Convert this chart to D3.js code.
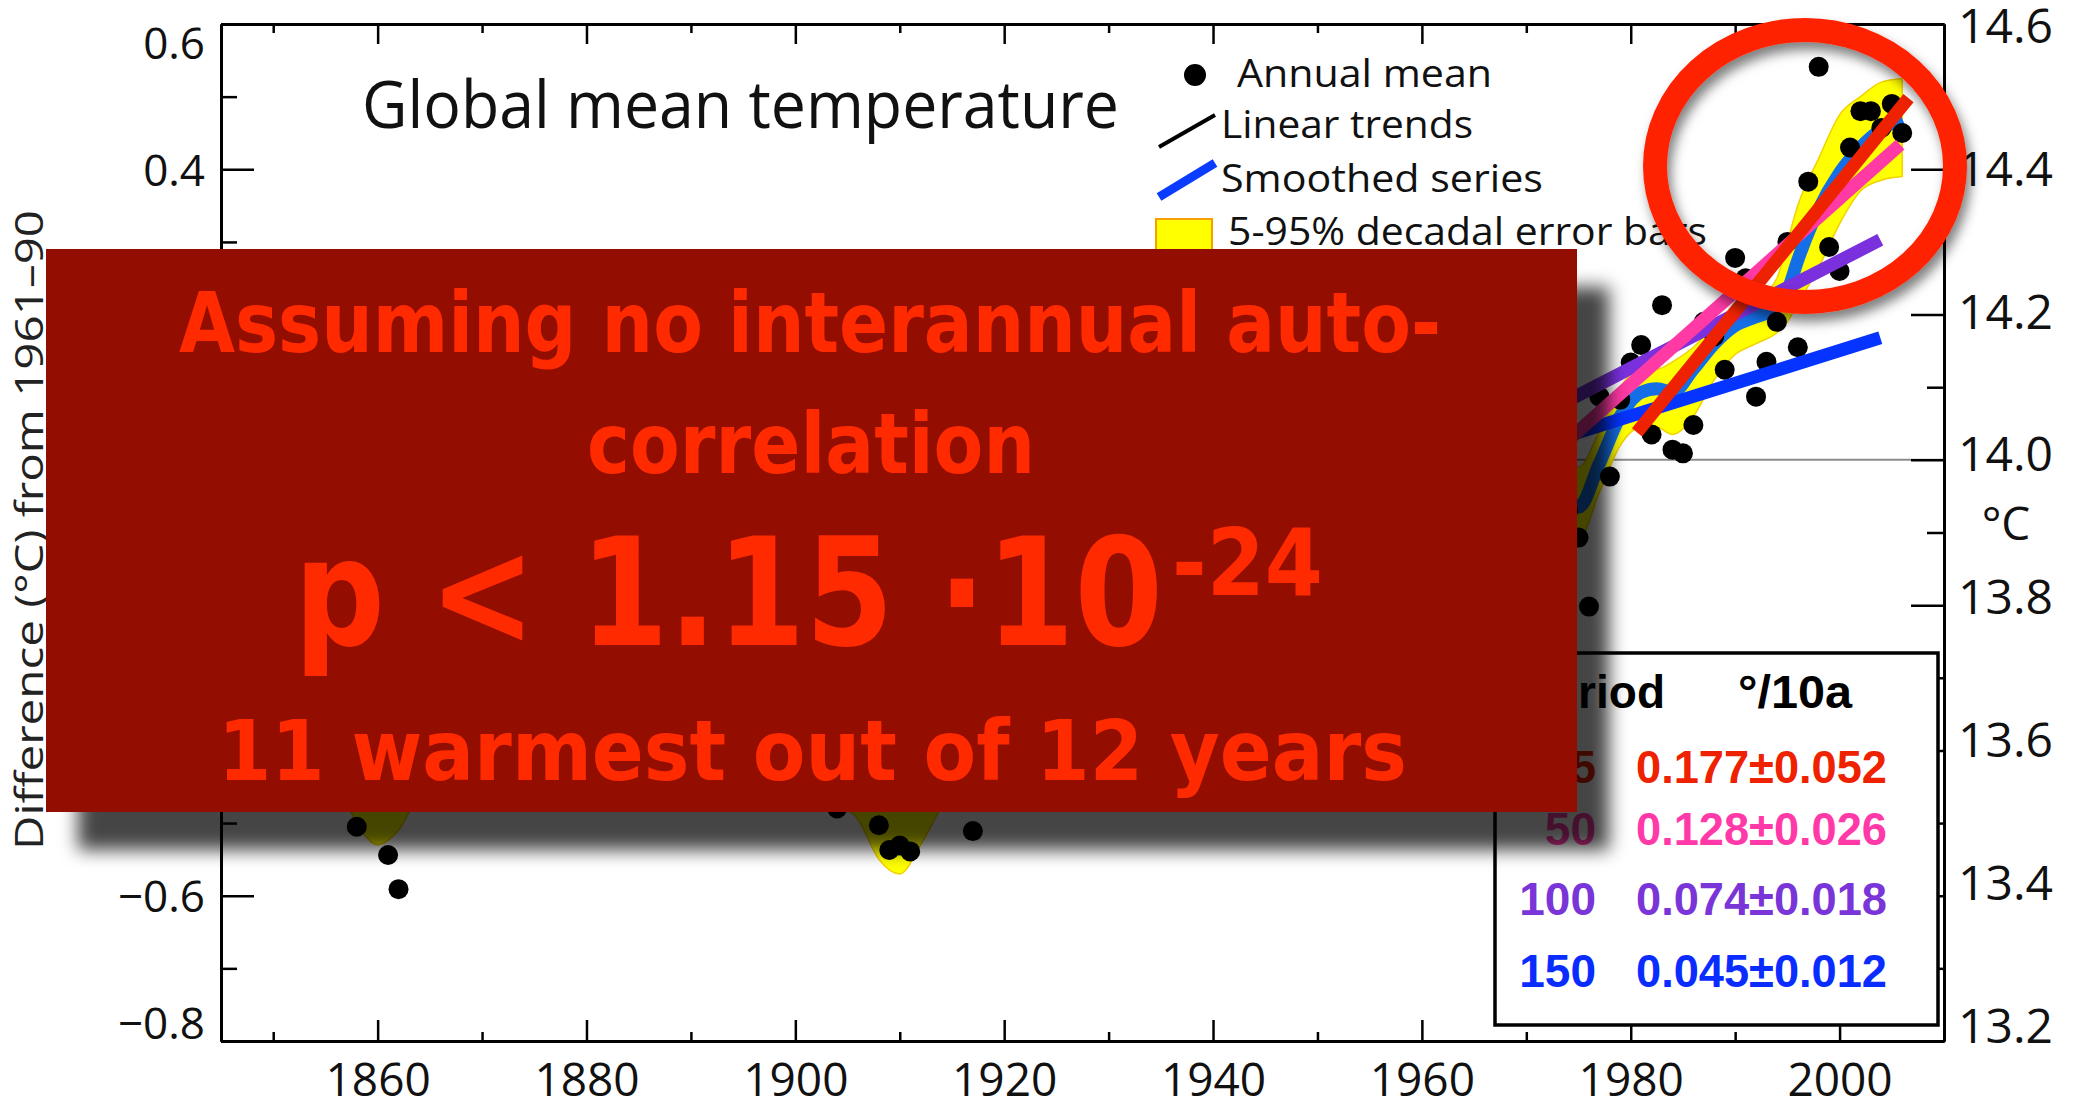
<!DOCTYPE html>
<html>
<head>
<meta charset="utf-8">
<script src="https://cdn.jsdelivr.net/npm/d3@7"></script>
<style>
  html, body { margin: 0; padding: 0; background: #ffffff; }
  svg { display: block; }
</style>
</head>
<body>
<svg id="chart" width="2076" height="1103"></svg>
<script>
// ---- Data -------------------------------------------------------------
// Annual global mean temperature anomaly (°C, relative to 1961–90), 1850–2006
const firstYear = 1850;
const annualMean = [
  -0.37, -0.22, -0.23, -0.27, -0.29, -0.30, -0.32, -0.44, -0.505, -0.28,   // 1850s
  -0.39, -0.544, -0.591, -0.30, -0.44, -0.29, -0.30, -0.32, -0.28, -0.28,  // 1860s
  -0.31, -0.32, -0.29, -0.32, -0.37, -0.38, -0.42, -0.12, -0.03, -0.29,    // 1870s
  -0.32, -0.25, -0.30, -0.35, -0.44, -0.43, -0.40, -0.45, -0.37, -0.25,    // 1880s
  -0.44, -0.39, -0.45, -0.44, -0.43, -0.40, -0.22, -0.24, -0.40, -0.29,    // 1890s
  -0.22, -0.29, -0.40, -0.45, -0.48, -0.35, -0.29, -0.45, -0.503, -0.537,  // 1900s
  -0.531, -0.539, -0.43, -0.43, -0.26, -0.22, -0.41, -0.511, -0.38, -0.30, // 1910s
  -0.29, -0.22, -0.31, -0.29, -0.29, -0.22, -0.09, -0.20, -0.20, -0.35,    // 1920s
  -0.14, -0.10, -0.16, -0.29, -0.13, -0.19, -0.14, -0.02, 0.00, -0.02,     // 1930s
  0.01, 0.02, 0.00, 0.00, 0.12, 0.01, -0.12, -0.12, -0.12, -0.13,          // 1940s
  -0.19, -0.07, 0.01, 0.08, -0.12, -0.14, -0.20, 0.04, 0.11, 0.06,         // 1950s
  -0.01, 0.05, 0.04, 0.07, -0.21, -0.11, -0.03, -0.01, -0.04, 0.08,        // 1960s
  0.03, -0.10, 0.00, 0.14, -0.07, -0.107, -0.202, 0.087, -0.023, 0.083,    // 1970s
  0.134, 0.158, 0.035, 0.213, 0.014, 0.009, 0.048, 0.19, 0.17, 0.124,      // 1980s
  0.278, 0.25, 0.087, 0.135, 0.19, 0.30, 0.155, 0.383, 0.541, 0.293,       // 1990s
  0.26, 0.43, 0.48, 0.48, 0.457, 0.49, 0.45                                // 2000s
];

// Decadal smoothed series with its 5–95% error band
const smoothYears = [1850, 1853, 1856, 1858, 1860, 1862, 1865, 1870, 1875, 1880,
  1885, 1890, 1895, 1900, 1903, 1906, 1908, 1910, 1912, 1915, 1920, 1925, 1930,
  1935, 1940, 1945, 1950, 1955, 1960, 1965, 1970, 1973, 1975, 1977, 1979, 1981,
  1982.5, 1984, 1986, 1988, 1990, 1992, 1994, 1995, 1996, 1998, 2000, 2002, 2004, 2006];
const smoothMean = [-0.34, -0.30, -0.34, -0.40, -0.43, -0.41, -0.34, -0.30, -0.30, -0.27,
  -0.37, -0.39, -0.34, -0.28, -0.38, -0.41, -0.46, -0.475, -0.44, -0.36, -0.28, -0.22, -0.17,
  -0.13, -0.01, -0.02, -0.11, -0.06, 0.01, -0.04, -0.01, -0.03, -0.065, -0.005, 0.06, 0.093,
  0.098, 0.093, 0.125, 0.16, 0.185, 0.197, 0.21, 0.232, 0.275, 0.345, 0.395, 0.43, 0.455, 0.47];
const bandLow = [-0.44, -0.40, -0.44, -0.50, -0.53, -0.51, -0.43, -0.39, -0.39, -0.36,
  -0.45, -0.47, -0.42, -0.36, -0.465, -0.495, -0.55, -0.57, -0.53, -0.45, -0.36, -0.29, -0.24,
  -0.20, -0.08, -0.09, -0.17, -0.12, -0.05, -0.10, -0.07, -0.09, -0.11, -0.045, 0.02, 0.045,
  0.045, 0.035, 0.06, 0.11, 0.145, 0.16, 0.175, 0.19, 0.215, 0.265, 0.325, 0.37, 0.385, 0.39];
const bandHigh = [-0.24, -0.20, -0.24, -0.30, -0.33, -0.31, -0.25, -0.21, -0.21, -0.18,
  -0.29, -0.31, -0.26, -0.20, -0.295, -0.325, -0.37, -0.38, -0.35, -0.27, -0.20, -0.15, -0.10,
  -0.06, 0.06, 0.05, -0.05, 0.00, 0.07, 0.02, 0.05, 0.03, -0.01, 0.04, 0.10, 0.125,
  0.125, 0.135, 0.155, 0.185, 0.205, 0.22, 0.25, 0.30, 0.35, 0.415, 0.475, 0.50, 0.52, 0.525];

// Linear trends over the last 25, 50, 100 and 150 years (°C per decade)
const trendPeriod = [25, 50, 100, 150];
const trendRate = [0.177, 0.128, 0.074, 0.045];
const trendError = [0.052, 0.026, 0.018, 0.012];
const trendFrom = [1980.6, 1955.8, 1905.9, 1862.0];
const trendTo = [2006.6, 2005.8, 2003.9, 2003.9];
const trendEndValue = [0.498, 0.434, 0.303, 0.168];

// Axis ticks
const yearTicks = [1860, 1880, 1900, 1920, 1940, 1960, 1980, 2000];
const yearMinorTicks = [1850, 1870, 1890, 1910, 1930, 1950, 1970, 1990];
const anomalyTicks = [0.6, 0.4, 0.2, 0.0, -0.2, -0.4, -0.6, -0.8];
const anomalyMinorTicks = [0.5, 0.3, 0.1, -0.1, -0.3, -0.5, -0.7];
const absoluteTickLabels = ["14.6", "14.4", "14.2", "14.0", "13.8", "13.6", "13.4", "13.2"];

// ---- Styles -----------------------------------------------------------
const trendColor = ["#ee2200", "#ff3aa5", "#7a30dc", "#0533ff"];
const tableColor = ["#ee2200", "#ff3aa8", "#7a35d8", "#0a2cff"];
const axisFont = "'Open Sans', 'Noto Sans', sans-serif";
const tableFont = "'Liberation Sans', Arial, sans-serif";
const noteFont = "'Comic Sans MS', 'DejaVu Sans', sans-serif";

// ---- Scales -----------------------------------------------------------
const x = d3.scaleLinear().domain([1845, 2010]).range([221, 1944]);
const y = d3.scaleLinear().domain([-0.8, 0.6]).range([1041, 24]);

const svg = d3.select("#chart");
const defs = svg.append("defs");

const boxShadow = defs.append("filter").attr("id", "boxShadow")
  .attr("x", "-10%").attr("y", "-10%").attr("width", "130%").attr("height", "130%");
boxShadow.append("feDropShadow").attr("dx", 32).attr("dy", 38)
  .attr("stdDeviation", 9).attr("flood-color", "#000").attr("flood-opacity", 0.73);

const ringShadow = defs.append("filter").attr("id", "ringShadow")
  .attr("x", "-20%").attr("y", "-20%").attr("width", "140%").attr("height", "140%");
ringShadow.append("feDropShadow").attr("dx", 4).attr("dy", 8)
  .attr("stdDeviation", 6).attr("flood-color", "#000").attr("flood-opacity", 0.5);

svg.append("rect").attr("width", 2076).attr("height", 1103).attr("fill", "#fff");

// ---- Plot body --------------------------------------------------------
const plot = svg.append("g");

// zero reference line
plot.append("line")
  .attr("x1", x(1845)).attr("x2", x(2010))
  .attr("y1", y(0)).attr("y2", y(0))
  .attr("stroke", "#8c8c8c").attr("stroke-width", 2);

const smoothRows = smoothYears.map((yr, i) => ({ yr, m: smoothMean[i], lo: bandLow[i], hi: bandHigh[i] }));

// error band
plot.append("path")
  .datum(smoothRows)
  .attr("d", d3.area().curve(d3.curveMonotoneX)
    .x(d => x(d.yr)).y0(d => y(d.lo)).y1(d => y(d.hi)))
  .attr("fill", "#ffff00").attr("stroke", "#f2d200").attr("stroke-width", 1.5);

// smoothed series
plot.append("path")
  .datum(smoothRows)
  .attr("d", d3.line().curve(d3.curveMonotoneX).x(d => x(d.yr)).y(d => y(d.m)))
  .attr("fill", "none").attr("stroke", "#146ee6").attr("stroke-width", 13)
  .attr("stroke-linejoin", "round");

// annual means
plot.append("g").selectAll("circle")
  .data(annualMean.map((v, i) => ({ yr: firstYear + i, v })))
  .join("circle")
  .attr("cx", d => x(d.yr)).attr("cy", d => y(d.v)).attr("r", 10)
  .attr("fill", "#000");

// linear trends
const trends = trendPeriod.map((p, i) => {
  const slope = trendRate[i] / 10;
  return {
    p, color: trendColor[i],
    x0: trendFrom[i], y0: trendEndValue[i] - slope * (trendTo[i] - trendFrom[i]),
    x1: trendTo[i], y1: trendEndValue[i]
  };
});
plot.append("g").selectAll("line")
  .data(trends.slice().reverse())
  .join("line")
  .attr("x1", d => x(d.x0)).attr("y1", d => y(d.y0))
  .attr("x2", d => x(d.x1)).attr("y2", d => y(d.y1))
  .attr("stroke", d => d.color).attr("stroke-width", 13);

// ---- Axes -------------------------------------------------------------
function styleAxis(g) {
  g.select(".domain").attr("stroke", "#000").attr("stroke-width", 3);
  g.selectAll(".tick line").attr("stroke", "#000").attr("stroke-width", 2.5);
  g.selectAll(".tick text").attr("fill", "#111").attr("font-family", axisFont);
}

// bottom
svg.append("g").attr("transform", `translate(0,${y(-0.8)})`)
  .call(d3.axisBottom(x).tickValues(yearMinorTicks).tickSizeInner(-9).tickSizeOuter(0).tickFormat(""))
  .call(styleAxis);
svg.append("g").attr("transform", `translate(0,${y(-0.8)})`)
  .call(d3.axisBottom(x).tickValues(yearTicks).tickSizeInner(-21).tickSizeOuter(0)
    .tickPadding(22).tickFormat(d3.format("d")))
  .call(styleAxis)
  .call(g => g.selectAll(".tick text").attr("font-size", 46));

// top
svg.append("g").attr("transform", `translate(0,${y(0.6)})`)
  .call(d3.axisTop(x).tickValues(yearMinorTicks).tickSizeInner(-9).tickSizeOuter(0).tickFormat(""))
  .call(styleAxis);
svg.append("g").attr("transform", `translate(0,${y(0.6)})`)
  .call(d3.axisTop(x).tickValues(yearTicks).tickSizeInner(-20).tickSizeOuter(0).tickFormat(""))
  .call(styleAxis);

// left
const anomalyFormat = d => d3.format(".1f")(d);
const labelShift = d => d === 0.6 ? 20 : (d === -0.8 ? -17 : 2);
svg.append("g").attr("transform", `translate(${x(1845)},0)`)
  .call(d3.axisLeft(y).tickValues(anomalyMinorTicks).tickSizeInner(-16).tickSizeOuter(0).tickFormat(""))
  .call(styleAxis);
svg.append("g").attr("transform", `translate(${x(1845)},0)`)
  .call(d3.axisLeft(y).tickValues(anomalyTicks).tickSizeInner(-33).tickSizeOuter(0)
    .tickPadding(16).tickFormat(anomalyFormat))
  .call(styleAxis)
  .call(g => g.selectAll(".tick text").attr("font-size", 44)
    .attr("transform", d => `translate(0,${labelShift(d)})`));

// right (absolute temperature)
svg.append("g").attr("transform", `translate(${x(2010)},0)`)
  .call(d3.axisRight(y).tickValues(anomalyMinorTicks).tickSizeInner(-17).tickSizeOuter(0).tickFormat(""))
  .call(styleAxis);
svg.append("g").attr("transform", `translate(${x(2010)},0)`)
  .call(d3.axisRight(y).tickValues(anomalyTicks).tickSizeInner(-33).tickSizeOuter(0)
    .tickPadding(14).tickFormat((d, i) => absoluteTickLabels[i]))
  .call(styleAxis)
  .call(g => g.selectAll(".tick text").attr("font-size", 48)
    .attr("transform", d => `translate(0,${3 - (0.6 - d) / 1.4 * 17})`));

svg.append("text").attr("x", 2006).attr("y", 540)
  .attr("text-anchor", "middle").attr("font-family", axisFont).attr("font-size", 46)
  .attr("fill", "#111").text("°C");

svg.append("text")
  .attr("transform", "translate(43,530) rotate(-90)")
  .attr("text-anchor", "middle").attr("font-family", axisFont).attr("font-size", 39)
  .attr("fill", "#222").attr("textLength", 640).attr("lengthAdjust", "spacingAndGlyphs")
  .text("Difference (°C) from 1961–90");

// ---- Title and legend -------------------------------------------------
svg.append("text").attr("x", 362).attr("y", 128)
  .attr("font-family", axisFont).attr("font-size", 66).attr("fill", "#111")
  .attr("textLength", 757).attr("lengthAdjust", "spacingAndGlyphs")
  .text("Global mean temperature");

const legend = svg.append("g").attr("font-family", axisFont).attr("font-size", 39).attr("fill", "#111");
legend.append("circle").attr("cx", 1195).attr("cy", 75).attr("r", 11).attr("fill", "#000");
legend.append("text").attr("x", 1237).attr("y", 87).attr("textLength", 255)
  .attr("lengthAdjust", "spacingAndGlyphs").text("Annual mean");
legend.append("line").attr("x1", 1159).attr("y1", 147).attr("x2", 1215).attr("y2", 115)
  .attr("stroke", "#000").attr("stroke-width", 4);
legend.append("text").attr("x", 1221).attr("y", 138).attr("textLength", 252)
  .attr("lengthAdjust", "spacingAndGlyphs").text("Linear trends");
legend.append("line").attr("x1", 1159).attr("y1", 197).attr("x2", 1215).attr("y2", 163)
  .attr("stroke", "#0a3cff").attr("stroke-width", 9);
legend.append("text").attr("x", 1221).attr("y", 192).attr("textLength", 322)
  .attr("lengthAdjust", "spacingAndGlyphs").text("Smoothed series");
legend.append("rect").attr("x", 1156).attr("y", 219).attr("width", 56).attr("height", 40)
  .attr("fill", "#ffff00").attr("stroke", "#f5a000").attr("stroke-width", 2);
legend.append("text").attr("x", 1228).attr("y", 245).attr("textLength", 479)
  .attr("lengthAdjust", "spacingAndGlyphs").text("5-95% decadal error bars");

// ---- Trend table ------------------------------------------------------
const table = svg.append("g").attr("font-family", tableFont).attr("font-weight", "bold").attr("font-size", 46);
table.append("rect").attr("x", 1495).attr("y", 653).attr("width", 443).attr("height", 372)
  .attr("fill", "#fff").attr("stroke", "#000").attr("stroke-width", 3.5);
table.append("text").attr("x", 1665).attr("y", 708).attr("text-anchor", "end")
  .attr("fill", "#000").text("Period");
table.append("text").attr("x", 1738).attr("y", 708).attr("fill", "#000")
  .attr("textLength", 114).attr("lengthAdjust", "spacingAndGlyphs").text("°/10a");
const rowBaseline = [783, 845, 915, 987];
trendPeriod.forEach((p, i) => {
  table.append("text").attr("x", 1596).attr("y", rowBaseline[i]).attr("text-anchor", "end")
    .attr("fill", tableColor[i]).text(p);
  table.append("text").attr("x", 1636).attr("y", rowBaseline[i]).attr("fill", tableColor[i])
    .attr("textLength", 251).attr("lengthAdjust", "spacingAndGlyphs")
    .text(`${trendRate[i].toFixed(3)}±${trendError[i].toFixed(3)}`);
});

// ---- Annotation box ---------------------------------------------------
const note = svg.append("g");
note.append("rect").attr("x", 46).attr("y", 249).attr("width", 1531).attr("height", 563)
  .attr("fill", "#931100").attr("filter", "url(#boxShadow)");
const noteText = note.append("g").attr("font-family", noteFont).attr("font-weight", "bold")
  .attr("fill", "#ff2a00");
noteText.append("text").attr("x", 179).attr("y", 352).attr("font-size", 84)
  .attr("textLength", 1262).attr("lengthAdjust", "spacingAndGlyphs")
  .text("Assuming no interannual auto-");
noteText.append("text").attr("x", 587).attr("y", 473).attr("font-size", 84)
  .attr("textLength", 448).attr("lengthAdjust", "spacingAndGlyphs")
  .text("correlation");
noteText.append("text").attr("x", 294).attr("y", 645).attr("font-size", 150)
  .attr("textLength", 869).attr("lengthAdjust", "spacingAndGlyphs")
  .text("p < 1.15 ·10");
noteText.append("text").attr("x", 1172).attr("y", 595).attr("font-size", 92)
  .attr("textLength", 151).attr("lengthAdjust", "spacingAndGlyphs")
  .text("-24");
noteText.append("text").attr("x", 218).attr("y", 780).attr("font-size", 84)
  .attr("textLength", 1189).attr("lengthAdjust", "spacingAndGlyphs")
  .text("11 warmest out of 12 years");

// ---- Highlight ring ---------------------------------------------------
svg.append("ellipse").attr("cx", 1805).attr("cy", 166).attr("rx", 150).attr("ry", 136)
  .attr("fill", "none").attr("stroke", "#ff2200").attr("stroke-width", 24)
  .attr("filter", "url(#ringShadow)");
</script>
</body>
</html>
